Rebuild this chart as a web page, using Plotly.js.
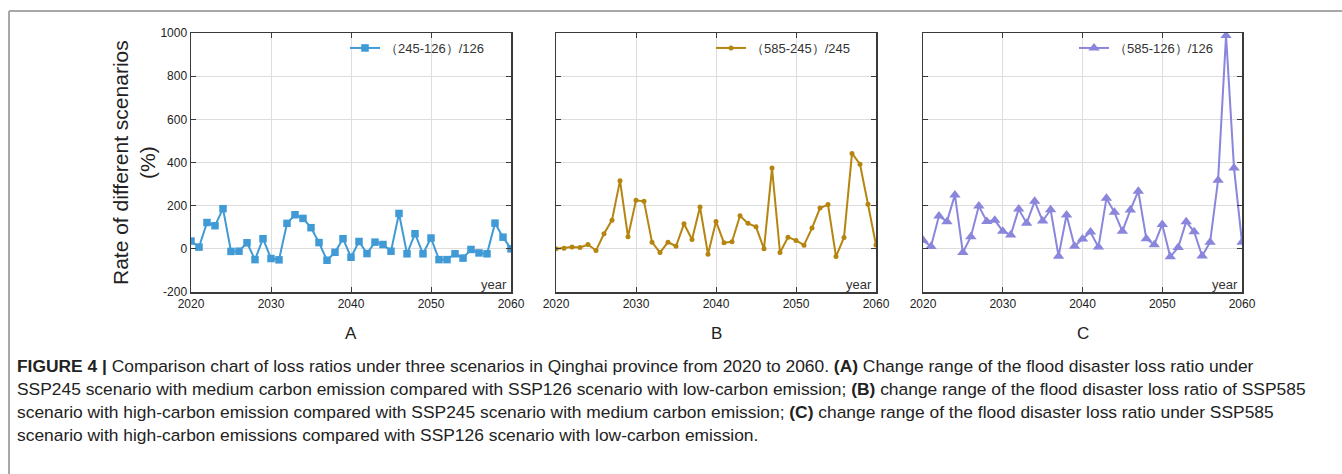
<!DOCTYPE html>
<html>
<head>
<meta charset="utf-8">
<script src="https://cdn.plot.ly/plotly-3.0.1.min.js"></script>
<style>
html,body{margin:0;padding:0;background:#fff;}
#chart{width:1342px;height:474px;}
</style>
</head>
<body>
<div id="chart"></div>
<script>
const years = [];
for (let y = 2020; y <= 2060; y++) years.push(y);

const seriesA = [36, 8, 122, 107, 186, -12, -11, 28, -50, 47, -45, -51, 118, 158, 141, 98, 29, -53, -16, 47, -39, 34, -22, 31, 20, -11, 164, -23, 70, -23, 50, -50, -50, -23, -43, -3, -19, -23, 119, 54, 0];
const seriesB = [0, 3, 8, 6, 20, -8, 70, 133, 316, 56, 225, 220, 31, -17, 31, 12, 116, 43, 194, -25, 127, 28, 33, 153, 118, 102, 0, 374, -17, 54, 39, 17, 96, 189, 205, -36, 53, 442, 392, 206, 18];
const seriesC = [40, 11, 152, 126, 250, -17, 56, 198, 127, 133, 82, 64, 184, 119, 220, 129, 181, -34, 157, 12, 45, 78, 8, 234, 169, 81, 180, 267, 47, 19, 113, -37, 6, 126, 79, -33, 31, 318, 988, 374, 30];

const nameA = "（245-126）/126";
const nameB = "（585-245）/245";
const nameC = "（585-126）/126";
const panelLabels = ["A", "B", "C"];
const yTicks = [-200, 0, 200, 400, 600, 800, 1000];
const xTicks = [2020, 2030, 2040, 2050, 2060];

const W = 1342, H = 474;
const px = v => v / W;
const py = v => 1 - v / H;

const colA = "#3f9ad6", colB = "#b5850f", colC = "#8a86dc";

const traces = [
  {x: years, y: seriesA, name: nameA, type: "scatter", mode: "lines+markers",
   line: {color: colA, width: 2}, marker: {symbol: "square", size: 7.5, color: colA},
   xaxis: "x", yaxis: "y", legend: "legend"},
  {x: years, y: seriesB, name: nameB, type: "scatter", mode: "lines+markers",
   line: {color: colB, width: 2}, marker: {symbol: "circle", size: 5, color: colB},
   xaxis: "x2", yaxis: "y2", legend: "legend2"},
  {x: years, y: seriesC, name: nameC, type: "scatter", mode: "lines+markers",
   line: {color: colC, width: 2}, marker: {symbol: "triangle-up", size: 10, color: colC},
   xaxis: "x3", yaxis: "y3", legend: "legend3"}
];

const panels = [[191, 511], [556, 876], [923, 1242]];
const plotTop = 33, plotBottom = 292;

function xax(i) {
  return {
    domain: [px(panels[i][0]), px(panels[i][1])],
    range: [2020, 2060], tickvals: xTicks, ticktext: xTicks.map(String),
    showgrid: true, gridcolor: "#dddddd", gridwidth: 1,
    showline: true, linecolor: "#3a3a3a", linewidth: 1.5, mirror: "allticks",
    ticks: "inside", ticklen: 5, tickcolor: "#3a3a3a",
    zeroline: false, fixedrange: true,
    tickfont: {family: "Liberation Sans, Arial, sans-serif", size: 12, color: "#222"},
    anchor: i === 0 ? "y" : "y" + (i + 1)
  };
}
function yax(i) {
  return {
    domain: [py(plotBottom), py(plotTop)],
    range: [-200, 1000], tickvals: yTicks, ticktext: yTicks.map(String),
    showgrid: true, gridcolor: "#dddddd", gridwidth: 1,
    showline: true, linecolor: "#3a3a3a", linewidth: 1.5, mirror: "allticks",
    ticks: "inside", ticklen: 5, tickcolor: "#3a3a3a",
    zeroline: false, fixedrange: true, showticklabels: i === 0,
    tickfont: {family: "Liberation Sans, Arial, sans-serif", size: 12, color: "#222"},
    anchor: i === 0 ? "x" : "x" + (i + 1)
  };
}

const legendBase = {
  xanchor: "left", yanchor: "middle", bgcolor: "rgba(0,0,0,0)",
  font: {family: "Liberation Sans, Arial, sans-serif", size: 13, color: "#333"},
  itemwidth: 30, tracegroupgap: 0
};
const legendXs = [345, 711, 1074];

const annotations = [];
panelLabels.forEach((lab, i) => {
  annotations.push({xref: "paper", yref: "paper", x: px((panels[i][0] + panels[i][1]) / 2), y: py(333),
    text: lab, showarrow: false, xanchor: "center", yanchor: "middle",
    font: {family: "Liberation Sans, Arial, sans-serif", size: 17, color: "#222"}});
  annotations.push({xref: "paper", yref: "paper", x: px(panels[i][1] - 2), y: py(284),
    text: "year", showarrow: false, xanchor: "right", yanchor: "middle",
    font: {family: "Liberation Sans, Arial, sans-serif", size: 13, color: "#333"}});
});
annotations.push({xref: "paper", yref: "paper", x: px(134), y: py(163),
  text: "Rate of different scenarios<br>(%)", textangle: -90, showarrow: false,
  xanchor: "center", yanchor: "middle", align: "center",
  font: {family: "Liberation Sans, Arial, sans-serif", size: 21, color: "#222"}});

const captionLines = [
  "<b>FIGURE 4 |</b> Comparison chart of loss ratios under three scenarios in Qinghai province from 2020 to 2060. <b>(A)</b> Change range of the flood disaster loss ratio under",
  "SSP245 scenario with medium carbon emission compared with SSP126 scenario with low-carbon emission; <b>(B)</b> change range of the flood disaster loss ratio of SSP585",
  "scenario with high-carbon emission compared with SSP245 scenario with medium carbon emission; <b>(C)</b> change range of the flood disaster loss ratio under SSP585",
  "scenario with high-carbon emissions compared with SSP126 scenario with low-carbon emission."
];
const captionY = [366, 389, 412, 435];
captionLines.forEach((t, i) => {
  annotations.push({xref: "paper", yref: "paper", x: px(15), y: py(captionY[i]),
    text: t, showarrow: false, xanchor: "left", yanchor: "middle", align: "left",
    font: {family: "Liberation Sans, Arial, sans-serif", size: 17.4, color: "#222"}});
});

const layout = {
  width: W, height: H, margin: {l: 0, r: 0, t: 0, b: 0},
  paper_bgcolor: "#fff", plot_bgcolor: "#fff",
  xaxis: xax(0), yaxis: yax(0), xaxis2: xax(1), yaxis2: yax(1), xaxis3: xax(2), yaxis3: yax(2),
  legend: Object.assign({}, legendBase, {x: px(legendXs[0]), y: py(48)}),
  legend2: Object.assign({}, legendBase, {x: px(legendXs[1]), y: py(48)}),
  legend3: Object.assign({}, legendBase, {x: px(legendXs[2]), y: py(48)}),
  showlegend: true,
  annotations: annotations,
  shapes: [
    {type: "line", xref: "paper", yref: "paper", x0: px(9), x1: 1, y0: py(11), y1: py(11), line: {color: "#a8a8a8", width: 2}},
    {type: "line", xref: "paper", yref: "paper", x0: px(9), x1: px(9), y0: py(11), y1: 0, line: {color: "#a8a8a8", width: 2}}
  ]
};

Plotly.newPlot("chart", traces, layout, {displayModeBar: false, staticPlot: true});
</script>
</body>
</html>
